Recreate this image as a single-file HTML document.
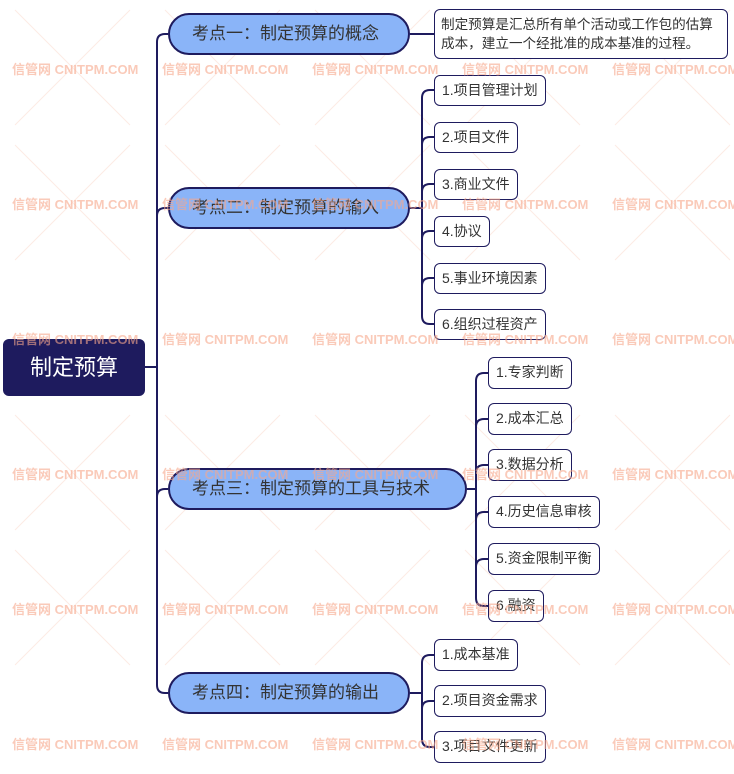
<!DOCTYPE html>
<html><head><meta charset="utf-8"><style>
body{margin:0;width:734px;height:774px;background:#fff;position:relative;overflow:hidden;font-family:"Liberation Sans","Noto Sans CJK SC",sans-serif;}
.wm{position:absolute;color:#f7a88c;font-weight:bold;font-size:13px;white-space:nowrap;opacity:.6;}
.n{position:absolute;box-sizing:border-box;}
.root{left:3px;top:339px;width:142px;height:57px;background:#1e1b5e;border-radius:6px;color:#fff;font-size:22px;line-height:57px;text-align:center;}
.l1{left:168px;height:42px;background:#8ab4f8;border:2px solid #1e1b5e;border-radius:21px;color:#333;font-size:17px;line-height:38px;padding-left:22px;}
.c{height:31px;background:#fff;border:1.5px solid #1e1b5e;border-radius:6px;color:#333;font-size:14px;line-height:28px;padding:0 7px;white-space:nowrap;}
</style></head><body>
<svg width="734" height="774" style="position:absolute;left:0;top:0" fill="none" stroke="#1e1b5e" stroke-width="2">
<g stroke="#fdebe4" stroke-width="1">
<path d="M15,10 L130,125 M130,10 L15,125 M165,10 L280,125 M280,10 L165,125 M315,10 L430,125 M430,10 L315,125 M465,10 L580,125 M580,10 L465,125 M615,10 L730,125 M730,10 L615,125"/>
<path d="M15,145 L130,260 M130,145 L15,260 M165,145 L280,260 M280,145 L165,260 M315,145 L430,260 M430,145 L315,260 M465,145 L580,260 M580,145 L465,260 M615,145 L730,260 M730,145 L615,260"/>
<path d="M15,415 L130,530 M130,415 L15,530 M165,415 L280,530 M280,415 L165,530 M315,415 L430,530 M430,415 L315,530 M465,415 L580,530 M580,415 L465,530 M615,415 L730,530 M730,415 L615,530"/>
<path d="M15,550 L130,665 M130,550 L15,665 M165,550 L280,665 M280,550 L165,665 M315,550 L430,665 M430,550 L315,665 M465,550 L580,665 M580,550 L465,665 M615,550 L730,665 M730,550 L615,665"/>
</g>
<path d="M145,367 H157"/>
<path d="M168,34 H165 Q157,34 157,42 V685 Q157,693 165,693 H168"/>
<path d="M157,216 Q157,208 165,208 H168"/>
<path d="M157,497 Q157,489 165,489 H168"/>
<path d="M410,34 H434"/>
<path d="M410,208 H422"/>
<path d="M434,90 H430 Q422,90 422,98 V316 Q422,324 430,324 H434"/>
<path d="M422,145 Q422,137 430,137 H434 M422,192 Q422,184 430,184 H434 M422,239 Q422,231 430,231 H434 M422,286 Q422,278 430,278 H434"/>
<path d="M467,489 H476"/>
<path d="M488,373 H484 Q476,373 476,381 V598 Q476,606 484,606 H488"/>
<path d="M476,427 Q476,419 484,419 H488 M476,473 Q476,465 484,465 H488 M476,520 Q476,512 484,512 H488 M476,567 Q476,559 484,559 H488"/>
<path d="M410,693 H422"/>
<path d="M434,655 H430 Q422,655 422,663 V739 Q422,747 430,747 H434"/>
<path d="M422,709 Q422,701 430,701 H434"/>
</svg>
<div class="n root">制定预算</div>
<div class="n l1" style="top:13px;width:242px">考点一：制定预算的概念</div>
<div class="n l1" style="top:187px;width:242px">考点二：制定预算的输入</div>
<div class="n l1" style="top:468px;width:299px">考点三：制定预算的工具与技术</div>
<div class="n l1" style="top:672px;width:242px">考点四：制定预算的输出</div>
<div class="n c" style="left:434px;top:9px;width:294px;height:50px;line-height:19px;padding:5px 6px;font-size:13.6px">制定预算是汇总所有单个活动或工作包的估算<br>成本，建立一个经批准的成本基准的过程。</div>
<div class="n c" style="left:434px;top:75px">1.项目管理计划</div>
<div class="n c" style="left:434px;top:122px">2.项目文件</div>
<div class="n c" style="left:434px;top:169px">3.商业文件</div>
<div class="n c" style="left:434px;top:216px">4.协议</div>
<div class="n c" style="left:434px;top:263px">5.事业环境因素</div>
<div class="n c" style="left:434px;top:309px">6.组织过程资产</div>
<div class="n c" style="left:488px;top:357px;height:32px">1.专家判断</div>
<div class="n c" style="left:488px;top:403px;height:32px">2.成本汇总</div>
<div class="n c" style="left:488px;top:449px;height:32px">3.数据分析</div>
<div class="n c" style="left:488px;top:496px;height:32px">4.历史信息审核</div>
<div class="n c" style="left:488px;top:543px;height:32px">5.资金限制平衡</div>
<div class="n c" style="left:488px;top:590px;height:32px">6.融资</div>
<div class="n c" style="left:434px;top:639px;height:32px">1.成本基准</div>
<div class="n c" style="left:434px;top:685px;height:32px">2.项目资金需求</div>
<div class="n c" style="left:434px;top:731px;height:32px">3.项目文件更新</div>
<div class="wm" style="left:12px;top:59px">信管网 CNITPM.COM</div><div class="wm" style="left:162px;top:59px">信管网 CNITPM.COM</div><div class="wm" style="left:312px;top:59px">信管网 CNITPM.COM</div><div class="wm" style="left:462px;top:59px">信管网 CNITPM.COM</div><div class="wm" style="left:612px;top:59px">信管网 CNITPM.COM</div>
<div class="wm" style="left:12px;top:194px">信管网 CNITPM.COM</div><div class="wm" style="left:162px;top:194px">信管网 CNITPM.COM</div><div class="wm" style="left:312px;top:194px">信管网 CNITPM.COM</div><div class="wm" style="left:462px;top:194px">信管网 CNITPM.COM</div><div class="wm" style="left:612px;top:194px">信管网 CNITPM.COM</div>
<div class="wm" style="left:12px;top:329px">信管网 CNITPM.COM</div><div class="wm" style="left:162px;top:329px">信管网 CNITPM.COM</div><div class="wm" style="left:312px;top:329px">信管网 CNITPM.COM</div><div class="wm" style="left:462px;top:329px">信管网 CNITPM.COM</div><div class="wm" style="left:612px;top:329px">信管网 CNITPM.COM</div>
<div class="wm" style="left:12px;top:464px">信管网 CNITPM.COM</div><div class="wm" style="left:162px;top:464px">信管网 CNITPM.COM</div><div class="wm" style="left:312px;top:464px">信管网 CNITPM.COM</div><div class="wm" style="left:462px;top:464px">信管网 CNITPM.COM</div><div class="wm" style="left:612px;top:464px">信管网 CNITPM.COM</div>
<div class="wm" style="left:12px;top:599px">信管网 CNITPM.COM</div><div class="wm" style="left:162px;top:599px">信管网 CNITPM.COM</div><div class="wm" style="left:312px;top:599px">信管网 CNITPM.COM</div><div class="wm" style="left:462px;top:599px">信管网 CNITPM.COM</div><div class="wm" style="left:612px;top:599px">信管网 CNITPM.COM</div>
<div class="wm" style="left:12px;top:734px">信管网 CNITPM.COM</div><div class="wm" style="left:162px;top:734px">信管网 CNITPM.COM</div><div class="wm" style="left:312px;top:734px">信管网 CNITPM.COM</div><div class="wm" style="left:462px;top:734px">信管网 CNITPM.COM</div><div class="wm" style="left:612px;top:734px">信管网 CNITPM.COM</div>
</body></html>
